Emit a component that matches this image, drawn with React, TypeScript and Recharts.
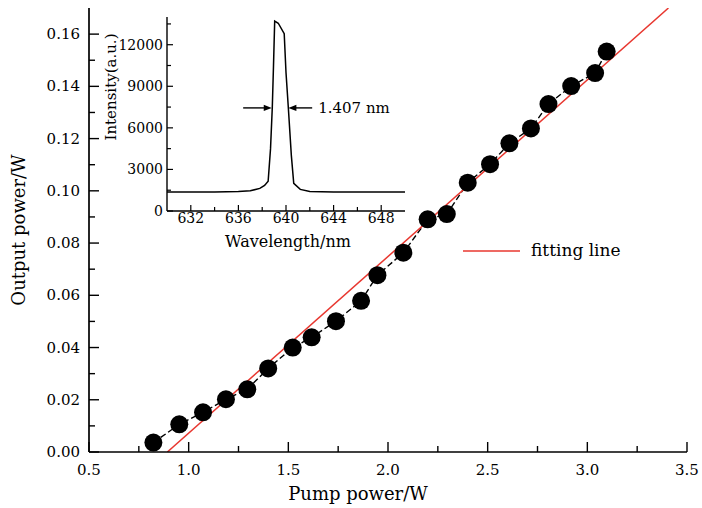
import React from 'react';
import { ComposedChart, LineChart, Line, XAxis, YAxis, ReferenceLine, ReferenceDot, Legend } from 'recharts';

const FONT = '"DejaVu Serif", serif';
const RED = '#e8372f';

// Main chart data: pump power (W) vs output power (W)
const pumpPower = [0.823, 0.953, 1.072, 1.187, 1.294, 1.399, 1.522, 1.617, 1.739, 1.865, 1.947, 2.077, 2.199, 2.295, 2.4, 2.512, 2.609, 2.717, 2.805, 2.919, 3.039, 3.097];
const outputPower = [0.0036, 0.0106, 0.0152, 0.0202, 0.024, 0.032, 0.04, 0.0439, 0.0501, 0.0579, 0.0677, 0.0763, 0.0891, 0.0911, 0.1031, 0.1102, 0.1182, 0.1239, 0.1332, 0.1401, 0.1451, 0.1533];

// Fitting line end points
const fitPump = [0.893, 3.407];
const fitOutput = [0, 0.17];

// Inset spectrum
const wavelength = [630, 632, 634, 636, 637, 637.8, 638.2, 638.5, 638.7, 638.85, 638.95, 639.05, 639.35, 639.85, 640.0, 640.2, 640.45, 640.65, 641.2, 642, 644, 646, 648, 650];
const intensity = [1380, 1370, 1375, 1400, 1460, 1630, 1850, 2150, 4500, 7500, 10500, 13700, 13550, 12800, 10000, 7400, 4000, 2000, 1560, 1400, 1370, 1380, 1375, 1380];

// Ticks
const xTicks = [0.5, 0.75, 1.0, 1.25, 1.5, 1.75, 2.0, 2.25, 2.5, 2.75, 3.0, 3.25, 3.5];
const yTicks = [0, 0.01, 0.02, 0.03, 0.04, 0.05, 0.06, 0.07, 0.08, 0.09, 0.1, 0.11, 0.12, 0.13, 0.14, 0.15, 0.16];
const insetXTicks = [632, 634, 636, 638, 640, 642, 644, 646, 648];
const insetYTicks = [0, 1500, 3000, 4500, 6000, 7500, 9000, 10500, 12000, 13500];

// FWHM annotation
const fwhmLevel = 7440;
const fwhmLeftArrow = [636.4, 638.8];
const fwhmRightArrow = [642.2, 640.2];
const fwhmLabel = '1.407 nm';

const measured = pumpPower.map((x, i) => ({ x, y: outputPower[i] }));
const fit = fitPump.map((x, i) => ({ x, y: fitOutput[i] }));
const spectrum = wavelength.map((w, i) => ({ w, v: intensity[i] }));

const MainXTick = (props: any) => {
  const { x, y, payload } = props;
  const v = payload.value as number;
  const major = Math.abs(v * 2 - Math.round(v * 2)) < 1e-6;
  return (
    <g>
      <line x1={x} x2={x} y1={y} y2={y - (major ? 10 : 6)} stroke="#000" strokeWidth={1.4} />
      {major && (
        <text x={x} y={y + 23} textAnchor="middle" fontSize={15} fontFamily={FONT} fill="#000">
          {v.toFixed(1)}
        </text>
      )}
    </g>
  );
};

const MainYTick = (props: any) => {
  const { x, y, payload } = props;
  const v = payload.value as number;
  const major = Math.abs(v * 50 - Math.round(v * 50)) < 1e-6;
  return (
    <g>
      <line x1={x} x2={x + (major ? 10 : 6)} y1={y} y2={y} stroke="#000" strokeWidth={1.4} />
      {major && (
        <text x={x - 9} y={y} dy={5} textAnchor="end" fontSize={15} fontFamily={FONT} fill="#000">
          {v.toFixed(2)}
        </text>
      )}
    </g>
  );
};

const InsetXTick = (props: any) => {
  const { x, y, payload } = props;
  const v = payload.value as number;
  const major = (v - 632) % 4 === 0;
  return (
    <g>
      <line x1={x} x2={x} y1={y} y2={y - (major ? 6 : 4)} stroke="#000" strokeWidth={1.2} />
      {major && (
        <text x={x} y={y + 12} textAnchor="middle" fontSize={14} fontFamily={FONT} fill="#000">
          {v}
        </text>
      )}
    </g>
  );
};

const InsetYTick = (props: any) => {
  const { x, y, payload } = props;
  const v = payload.value as number;
  const major = v % 3000 === 0;
  return (
    <g>
      <line x1={x} x2={x + (major ? 6 : 4)} y1={y} y2={y} stroke="#000" strokeWidth={1.2} />
      {major && (
        <text x={x - 4} y={y} dy={5} textAnchor="end" fontSize={14} fontFamily={FONT} fill="#000">
          {v}
        </text>
      )}
    </g>
  );
};

const arrowShape = (props: any) => {
  const { x1, y1, x2, y2 } = props;
  const dx = x2 - x1;
  const dir = dx >= 0 ? 1 : -1;
  const hl = 8;
  const hw = 3.2;
  return (
    <g>
      <line x1={x1} y1={y1} x2={x2 - dir * hl * 0.6} y2={y2} stroke="#000" strokeWidth={1.4} />
      <polygon points={`${x2},${y2} ${x2 - dir * hl},${y2 - hw} ${x2 - dir * hl},${y2 + hw}`} fill="#000" />
    </g>
  );
};

const axisLine = { stroke: '#000', strokeWidth: 1.7 };
const insetAxisLine = { stroke: '#000', strokeWidth: 1.4 };

export default function App() {
  return (
    <div style={{ position: 'absolute', left: 0, top: 0, width: 702, height: 508, background: '#fff', fontFamily: FONT }}>
      <ComposedChart width={702} height={508} margin={{ top: 8, right: 15, bottom: 0, left: 0 }}>
        <XAxis
          xAxisId="b"
          type="number"
          dataKey="x"
          domain={[0.5, 3.5]}
          ticks={xTicks}
          interval={0}
          tickSize={0}
          tickMargin={0}
          tickLine={false}
          axisLine={axisLine}
          tick={<MainXTick />}
          height={56}
          allowDataOverflow
          label={() => (
            <text x={358} y={500} textAnchor="middle" fontSize={18} fontFamily={FONT} fill="#000">
              Pump power/W
            </text>
          )}
        />
        <XAxis xAxisId="t" orientation="top" type="number" domain={[0.5, 3.5]} tick={false} tickLine={false} height={0} axisLine={axisLine} allowDataOverflow />
        <YAxis
          yAxisId="l"
          type="number"
          domain={[0, 0.17]}
          ticks={yTicks}
          interval={0}
          tickSize={0}
          tickMargin={0}
          tickLine={false}
          axisLine={axisLine}
          tick={<MainYTick />}
          width={89}
          allowDataOverflow
          label={() => (
            <text x={18} y={230} transform="rotate(-90 18 230)" textAnchor="middle" dominantBaseline="central" fontSize={18} fontFamily={FONT} fill="#000">
              Output power/W
            </text>
          )}
        />
        <YAxis yAxisId="r" orientation="right" type="number" domain={[0, 0.17]} tick={false} tickLine={false} width={0} axisLine={axisLine} allowDataOverflow />
        <Line
          xAxisId="b"
          yAxisId="l"
          data={measured}
          dataKey="y"
          type="linear"
          stroke="#000"
          strokeWidth={1.4}
          strokeDasharray="6 3"
          dot={{ r: 9, fill: '#000', stroke: 'none', strokeDasharray: '0' }}
          activeDot={false}
          isAnimationActive={false}
          name="measured"
          legendType="none"
        />
        <Line
          xAxisId="b"
          yAxisId="l"
          data={fit}
          dataKey="y"
          type="linear"
          stroke={RED}
          strokeWidth={1.5}
          dot={false}
          activeDot={false}
          isAnimationActive={false}
          name="fitting line"
        />
        <Legend
          layout="vertical"
          align="center"
          verticalAlign="middle"
          wrapperStyle={{ left: 455, top: 237, width: 220, height: 28 }}
          content={() => (
            <svg width={220} height={28}>
              <line x1={8} x2={65} y1={14} y2={14} stroke={RED} strokeWidth={1.5} />
              <text x={76} y={19} fontSize={17} fontFamily={FONT} fill="#000">
                fitting line
              </text>
            </svg>
          )}
        />
      </ComposedChart>

      <div style={{ position: 'absolute', left: 90, top: 10 }}>
        <LineChart width={330} height={250} margin={{ top: 7, right: 15, bottom: 0, left: 0 }} data={spectrum}>
          <XAxis
            xAxisId="b"
            type="number"
            dataKey="w"
            domain={[630, 650]}
            ticks={insetXTicks}
            interval={0}
            tickSize={0}
            tickMargin={0}
            tickLine={false}
            axisLine={insetAxisLine}
            tick={<InsetXTick />}
            height={49}
            allowDataOverflow
            label={() => (
              <text x={198} y={237} textAnchor="middle" fontSize={16} fontFamily={FONT} fill="#000">
                Wavelength/nm
              </text>
            )}
          />
          <XAxis xAxisId="t" orientation="top" type="number" domain={[630, 650]} tick={false} tickLine={false} height={0} axisLine={insetAxisLine} allowDataOverflow />
          <YAxis
            yAxisId="l"
            type="number"
            domain={[0, 14000]}
            ticks={insetYTicks}
            interval={0}
            tickSize={0}
            tickMargin={0}
            tickLine={false}
            axisLine={insetAxisLine}
            tick={<InsetYTick />}
            width={77}
            allowDataOverflow
            label={() => (
              <text x={20.5} y={77} transform="rotate(-90 20.5 77)" textAnchor="middle" dominantBaseline="central" fontSize={15} fontFamily={FONT} fill="#000">
                Intensity(a.u.)
              </text>
            )}
          />
          <YAxis yAxisId="r" orientation="right" type="number" domain={[0, 14000]} tick={false} tickLine={false} width={0} axisLine={insetAxisLine} allowDataOverflow />
          <Line xAxisId="b" yAxisId="l" dataKey="v" type="linear" stroke="#000" strokeWidth={1.5} dot={false} activeDot={false} isAnimationActive={false} />
          <ReferenceLine
            xAxisId="b"
            yAxisId="l"
            segment={[{ x: fwhmLeftArrow[0], y: fwhmLevel }, { x: fwhmLeftArrow[1], y: fwhmLevel }]}
            stroke="#000"
            shape={arrowShape}
          />
          <ReferenceLine
            xAxisId="b"
            yAxisId="l"
            segment={[{ x: fwhmRightArrow[0], y: fwhmLevel }, { x: fwhmRightArrow[1], y: fwhmLevel }]}
            stroke="#000"
            shape={arrowShape}
          />
          <ReferenceDot
            xAxisId="b"
            yAxisId="l"
            x={fwhmRightArrow[0]}
            y={fwhmLevel}
            r={0}
            fill="none"
            stroke="none"
            label={{ value: fwhmLabel, position: 'right', offset: 6, fill: '#000', fontSize: 15, fontFamily: FONT }}
          />
        </LineChart>
      </div>
    </div>
  );
}
